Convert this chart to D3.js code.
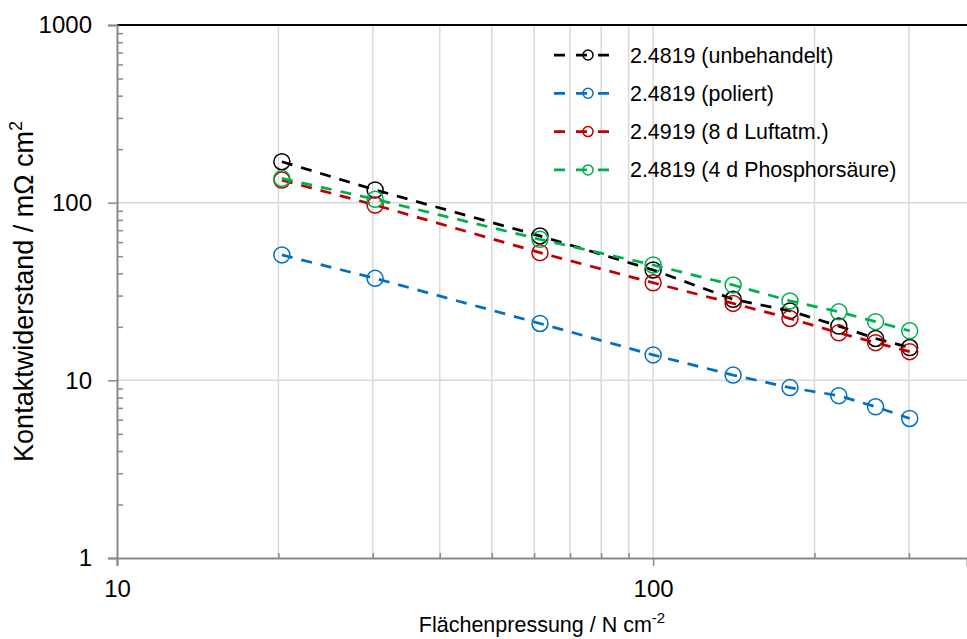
<!DOCTYPE html>
<html>
<head>
<meta charset="utf-8">
<script src="https://cdn.jsdelivr.net/npm/d3@7"></script>
<style>
	body { margin: 0; background: #fff; }
	svg { display: block; font-family: "Liberation Sans", Arial, sans-serif; }
	.axis path, .axis line { stroke: #898989; }
	.axis text { fill: #000; }
</style>
</head>
<body>
<div id="chart"></div>
<script>
// Pressure values (N cm-2)
var pressure = [20.3, 30.3, 61.5, 100, 141, 180, 222, 260, 301];

// Contact resistance per sample (mOhm cm2)
var unbehandelt = [170, 118, 65, 41.8, 28.6, 24.6, 20.2, 17.2, 15.3];
var poliert = [50.8, 37.5, 20.9, 13.9, 10.7, 9.1, 8.2, 7.1, 6.1];
var luftatm = [134, 97, 52.3, 35.4, 27.1, 22.3, 18.5, 16.3, 14.5];
var phosphor = [137, 104.5, 62.2, 44.6, 34.4, 28.0, 24.3, 21.4, 19.0];

var seriesNames = ["2.4819 (unbehandelt)", "2.4819 (poliert)", "2.4919 (8 d Luftatm.)", "2.4819 (4 d Phosphorsäure)"];
var seriesColors = ["#000000", "#0070c0", "#c00000", "#00b050"];

var yMajorTicks = [1, 10, 100, 1000];
var xMajorTicks = [10, 100];
var xGridTicks = [20, 30, 40, 50, 60, 70, 80, 90, 100, 200, 300];
var xMinorTicks = [20, 30, 40, 50, 60, 70, 80, 90, 200, 300];

class ResistanceChart{

	constructor(_parentElement, _width, _height){
		this.parentElement = _parentElement;
		this.width = _width;
		this.height = _height;

		this.initializeChart();
	}

	initializeChart(){
		var vis = this;

		vis.margin = {top: 25, right: 0, bottom: 81, left: 117};
		vis.innerW = vis.width - vis.margin.left - vis.margin.right;
		vis.innerH = vis.height - vis.margin.top - vis.margin.bottom;

		vis.svg = d3.select(vis.parentElement)
					.append("svg")
					.attr("width", vis.width)
					.attr("height", vis.height);

		vis.g = vis.svg.append("g")
					.attr("transform", "translate(" + vis.margin.left + "," + vis.margin.top + ")");

		// x runs a bit past 300, the chart is cut at the right edge
		vis.x = d3.scaleLog().domain([10, 385]).range([0, vis.innerW]);
		vis.y = d3.scaleLog().domain([1, 1000]).range([vis.innerH, 0]);

		vis.wrangleData();
	}

	wrangleData(){
		var vis = this;

		var all = [unbehandelt, poliert, luftatm, phosphor];
		vis.series = all.map((vals, i) => {
			return {
				name: seriesNames[i],
				color: seriesColors[i],
				points: vals.map((v, j) => ({p: pressure[j], r: v}))
			};
		});

		vis.updateChart();
	}

	updateChart(){
		var vis = this;

		// Grid lines
		vis.g.selectAll(".vgrid")
			.data(xGridTicks)
			.enter().append("line")
			.attr("class", "vgrid")
			.attr("x1", d => vis.x(d)).attr("x2", d => vis.x(d))
			.attr("y1", 0).attr("y2", vis.innerH)
			.attr("stroke", "#d9d9d9")
			.attr("stroke-width", 1.5);

		vis.g.selectAll(".hgrid")
			.data([10, 100])
			.enter().append("line")
			.attr("class", "hgrid")
			.attr("x1", 0).attr("x2", vis.innerW)
			.attr("y1", d => vis.y(d)).attr("y2", d => vis.y(d))
			.attr("stroke", "#d9d9d9")
			.attr("stroke-width", 1.5);

		// top border
		vis.g.append("line")
			.attr("x1", 0).attr("x2", vis.innerW)
			.attr("y1", vis.y(1000)).attr("y2", vis.y(1000))
			.attr("stroke", "#000")
			.attr("stroke-width", 2);

		// Y axis, major ticks outside, minor ticks inside
		var yAxis = vis.g.append("g")
			.attr("class", "axis")
			.call(d3.axisLeft(vis.y).tickValues(yMajorTicks).tickSize(9).tickPadding(16).tickFormat(d3.format("d")));
		yAxis.select(".domain").attr("stroke-width", 2);
		yAxis.selectAll("line").attr("stroke-width", 1.5);
		yAxis.selectAll("text").attr("font-size", 24).attr("font-family", "Liberation Sans, Arial, sans-serif");

		var yMinor = [];
		[1, 10, 100].forEach(dec => { for(let k = 2; k <= 9; k++){ yMinor.push(dec * k); } });
		var yMinorAxis = vis.g.append("g")
			.attr("class", "axis")
			.call(d3.axisRight(vis.y).tickValues(yMinor).tickSize(6).tickFormat(""));
		yMinorAxis.select(".domain").remove();
		yMinorAxis.selectAll("line").attr("stroke-width", 1.5);

		// X axis
		var xAxis = vis.g.append("g")
			.attr("class", "axis")
			.attr("transform", "translate(0," + vis.innerH + ")")
			.call(d3.axisBottom(vis.x).tickValues(xMajorTicks).tickSize(8).tickPadding(14).tickFormat(d3.format("d")));
		xAxis.select(".domain").attr("stroke-width", 2);
		xAxis.selectAll("line").attr("stroke-width", 1.5);
		xAxis.selectAll("text").attr("font-size", 24).attr("font-family", "Liberation Sans, Arial, sans-serif");

		var xMinorAxis = vis.g.append("g")
			.attr("class", "axis")
			.attr("transform", "translate(0," + vis.innerH + ")")
			.call(d3.axisTop(vis.x).tickValues(xMinorTicks).tickSize(5).tickFormat(""));
		xMinorAxis.select(".domain").remove();
		xMinorAxis.selectAll("line").attr("stroke-width", 1.5);

		// Axis titles
		var xTitle = vis.svg.append("text")
			.attr("x", vis.margin.left + vis.innerW / 2)
			.attr("y", 632)
			.attr("text-anchor", "middle")
			.attr("font-size", 21.5);
		xTitle.append("tspan").text("Flächenpressung / N cm");
		xTitle.append("tspan").attr("dy", -9).attr("font-size", 15).text("-2");

		var yTitle = vis.svg.append("text")
			.attr("transform", "translate(33," + (vis.margin.top + vis.innerH / 2) + ") rotate(-90)")
			.attr("text-anchor", "middle")
			.attr("font-size", 27);
		yTitle.append("tspan").text("Kontaktwiderstand / mΩ cm");
		yTitle.append("tspan").attr("dy", -11).attr("font-size", 18).text("2");

		// Series lines and markers
		var line = d3.line().x(d => vis.x(d.p)).y(d => vis.y(d.r));

		var groups = vis.g.selectAll(".series")
			.data(vis.series)
			.enter().append("g")
			.attr("class", "series");

		groups.append("path")
			.attr("d", d => line(d.points))
			.attr("fill", "none")
			.attr("stroke", d => d.color)
			.attr("stroke-width", 2.75)
			.attr("stroke-dasharray", "11,9");

		groups.selectAll("circle")
			.data(d => d.points.map(p => ({p: p.p, r: p.r, color: d.color})))
			.enter().append("circle")
			.attr("cx", d => vis.x(d.p))
			.attr("cy", d => vis.y(d.r))
			.attr("r", 8)
			.attr("fill", "none")
			.attr("stroke", d => d.color)
			.attr("stroke-width", 1.5);

		// Legend
		var legend = vis.svg.selectAll(".legend")
			.data(vis.series)
			.enter().append("g")
			.attr("class", "legend")
			.attr("transform", (d, i) => "translate(554," + (55 + i * 38.3) + ")");

		legend.append("line")
			.attr("x1", 0).attr("x2", 57)
			.attr("y1", 0).attr("y2", 0)
			.attr("stroke", d => d.color)
			.attr("stroke-width", 2.75)
			.attr("stroke-dasharray", "11,11");

		legend.append("circle")
			.attr("cx", 34).attr("cy", 0).attr("r", 5)
			.attr("fill", "none")
			.attr("stroke", d => d.color)
			.attr("stroke-width", 1.5);

		legend.append("text")
			.attr("x", 76)
			.attr("y", 0)
			.attr("dy", "0.35em")
			.attr("font-size", 21.4)
			.text(d => d.name);
	}
}

var chart = new ResistanceChart("#chart", 967, 639);
</script>
</body>
</html>
